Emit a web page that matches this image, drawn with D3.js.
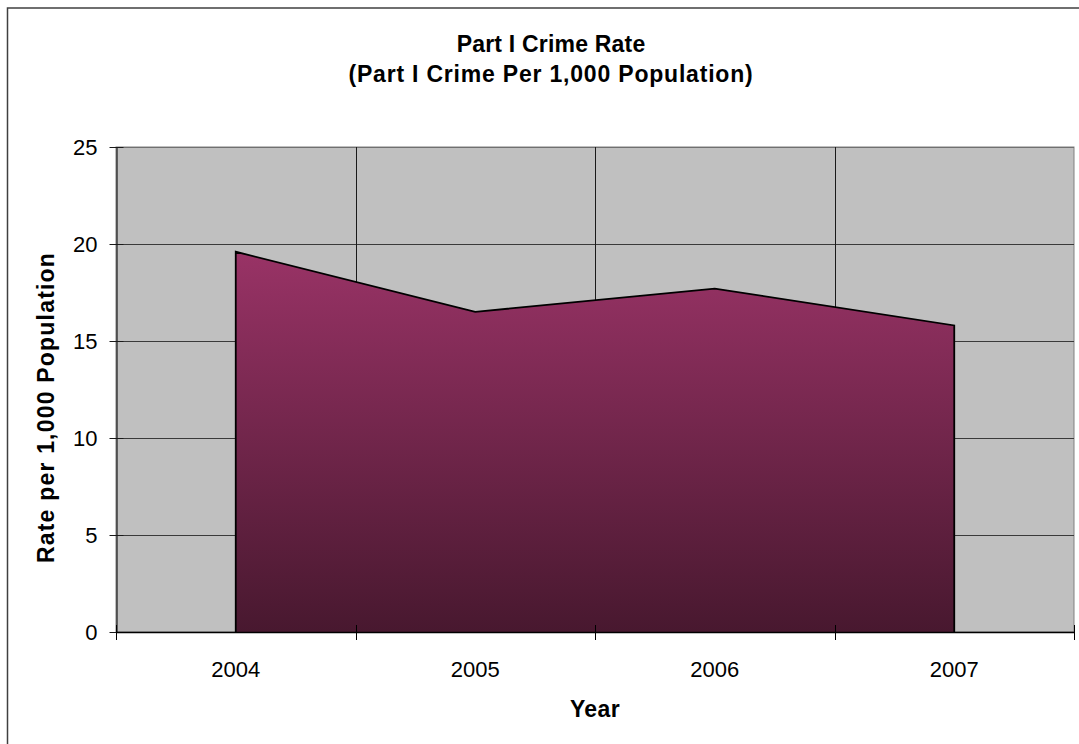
<!DOCTYPE html>
<html>
<head>
<meta charset="utf-8">
<script src="https://cdn.jsdelivr.net/npm/d3@7/dist/d3.min.js"></script>
<style>
  html, body { margin: 0; padding: 0; background: #ffffff; }
  svg { display: block; font-family: "Liberation Sans", Arial, sans-serif; }
</style>
</head>
<body>
<svg id="chart" width="1079" height="744"></svg>
<script>
// ---- data ----
const years = ["2004", "2005", "2006", "2007"];
const rates = [19.6, 16.5, 17.7, 15.8];
const yTicks = [0, 5, 10, 15, 20, 25];
const titleLines = ["Part I Crime Rate", "(Part I Crime Per 1,000 Population)"];
const xTitle = "Year";
const yTitle = "Rate per 1,000 Population";

// ---- layout ----
const plot = { left: 116, top: 147, right: 1074, bottom: 632 };
const svg = d3.select("#chart");

// chart outer border
svg.append("rect")
  .attr("x", 7.5).attr("y", 8)
  .attr("width", 1090).attr("height", 770)
  .attr("fill", "#ffffff")
  .attr("stroke", "#404040").attr("stroke-width", 1.5);

const x = d3.scaleBand().domain(years).range([plot.left, plot.right]).paddingInner(0).paddingOuter(0);
const y = d3.scaleLinear().domain([0, 25]).range([plot.bottom, plot.top]);

// plot background
svg.append("rect")
  .attr("x", plot.left).attr("y", plot.top)
  .attr("width", plot.right - plot.left).attr("height", plot.bottom - plot.top)
  .attr("fill", "#c0c0c0")
  .attr("stroke", "#808080").attr("stroke-width", 1);

// horizontal gridlines
svg.append("g").selectAll("line")
  .data(yTicks.filter(d => d > 0))
  .join("line")
  .attr("x1", plot.left).attr("x2", plot.right)
  .attr("y1", d => Math.round(y(d)) + 0.5).attr("y2", d => Math.round(y(d)) + 0.5)
  .attr("stroke", d => d === 25 ? "#707070" : "#3a3a3a").attr("stroke-width", 1);

// vertical gridlines at category boundaries
const boundaries = years.slice(1).map(d => x(d));
svg.append("g").selectAll("line")
  .data(boundaries)
  .join("line")
  .attr("x1", d => Math.round(d) + 0.5).attr("x2", d => Math.round(d) + 0.5)
  .attr("y1", plot.top).attr("y2", plot.bottom)
  .attr("stroke", "#1a1a1a").attr("stroke-width", 1);

// gradient
const defs = svg.append("defs");
const grad = defs.append("linearGradient")
  .attr("id", "areaGrad")
  .attr("gradientUnits", "userSpaceOnUse")
  .attr("x1", 0).attr("x2", 0)
  .attr("y1", y(d3.max(rates))).attr("y2", y(0));
grad.append("stop").attr("offset", "0%").attr("stop-color", "#993366");
grad.append("stop").attr("offset", "100%").attr("stop-color", "#48182f");

const pts = years.map((d, i) => ({ year: d, v: rates[i] }));
const cx = d => x(d.year) + x.bandwidth() / 2;

const area = d3.area()
  .x(cx)
  .y0(y(0))
  .y1(d => y(d.v));
svg.append("path")
  .datum(pts)
  .attr("d", area)
  .attr("fill", "url(#areaGrad)")
  .attr("stroke", "none");

// outline: left side, top line, right side (no bottom)
const outline = d3.line().x(p => p[0]).y(p => p[1]);
const first = pts[0], last = pts[pts.length - 1];
const outlinePts = [[cx(first), y(0)]]
  .concat(pts.map(d => [cx(d), y(d.v)]))
  .concat([[cx(last), y(0)]]);
svg.append("path")
  .attr("d", outline(outlinePts))
  .attr("fill", "none")
  .attr("stroke", "#000000").attr("stroke-width", 1.8)
  .attr("stroke-linejoin", "miter");

// y axis
const yAxis = d3.axisLeft(y).tickValues(yTicks).tickSizeInner(7).tickSizeOuter(0).tickPadding(12);
const gy = svg.append("g")
  .attr("transform", `translate(${plot.left + 0.5},0)`)
  .call(yAxis);
gy.select(".domain").attr("stroke", "#1a1a1a").attr("stroke-width", 1.2);
gy.selectAll(".tick line").attr("x1", 7).attr("stroke", "#1a1a1a");
gy.selectAll(".tick text")
  .attr("font-family", "'Liberation Sans', Arial, sans-serif")
  .attr("font-size", 22).attr("fill", "#000");

// x axis (labels only)
const xAxis = d3.axisBottom(x).tickSize(0).tickPadding(29);
const gx = svg.append("g")
  .attr("transform", `translate(0,${plot.bottom})`)
  .call(xAxis);
gx.select(".domain").attr("stroke", "#000").attr("stroke-width", 1.5);
gx.selectAll(".tick text")
  .attr("font-family", "'Liberation Sans', Arial, sans-serif")
  .attr("font-size", 22).attr("fill", "#000");

// x axis crossing ticks at category boundaries
const edgeTicks = years.map(d => x(d)).concat([x(years[years.length - 1]) + x.bandwidth()]);
svg.append("g").selectAll("line")
  .data(edgeTicks)
  .join("line")
  .attr("x1", d => Math.round(d) + 0.5).attr("x2", d => Math.round(d) + 0.5)
  .attr("y1", plot.bottom - 7).attr("y2", plot.bottom + 8)
  .attr("stroke", "#000").attr("stroke-width", 1);

// titles
const title = svg.append("text")
  .attr("text-anchor", "middle")
  .attr("font-family", "'Liberation Sans', Arial, sans-serif")
  .attr("font-weight", "bold")
  .attr("font-size", 23)
  .attr("fill", "#000");
title.selectAll("tspan")
  .data(titleLines)
  .join("tspan")
  .attr("x", 551)
  .attr("y", (d, i) => 52 + i * 30)
  .attr("letter-spacing", (d, i) => i === 0 ? 0.2 : 0.8)
  .text(d => d);

svg.append("text")
  .attr("x", (plot.left + plot.right) / 2)
  .attr("y", 717)
  .attr("text-anchor", "middle")
  .attr("font-family", "'Liberation Sans', Arial, sans-serif")
  .attr("font-weight", "bold")
  .attr("font-size", 23)
  .attr("letter-spacing", 0.4)
  .attr("fill", "#000")
  .text(xTitle);

svg.append("text")
  .attr("transform", `translate(54,${(plot.top + plot.bottom) / 2 + 18}) rotate(-90)`)
  .attr("text-anchor", "middle")
  .attr("font-family", "'Liberation Sans', Arial, sans-serif")
  .attr("font-weight", "bold")
  .attr("font-size", 23)
  .attr("letter-spacing", 1.2)
  .attr("fill", "#000")
  .text(yTitle);
</script>
</body>
</html>
